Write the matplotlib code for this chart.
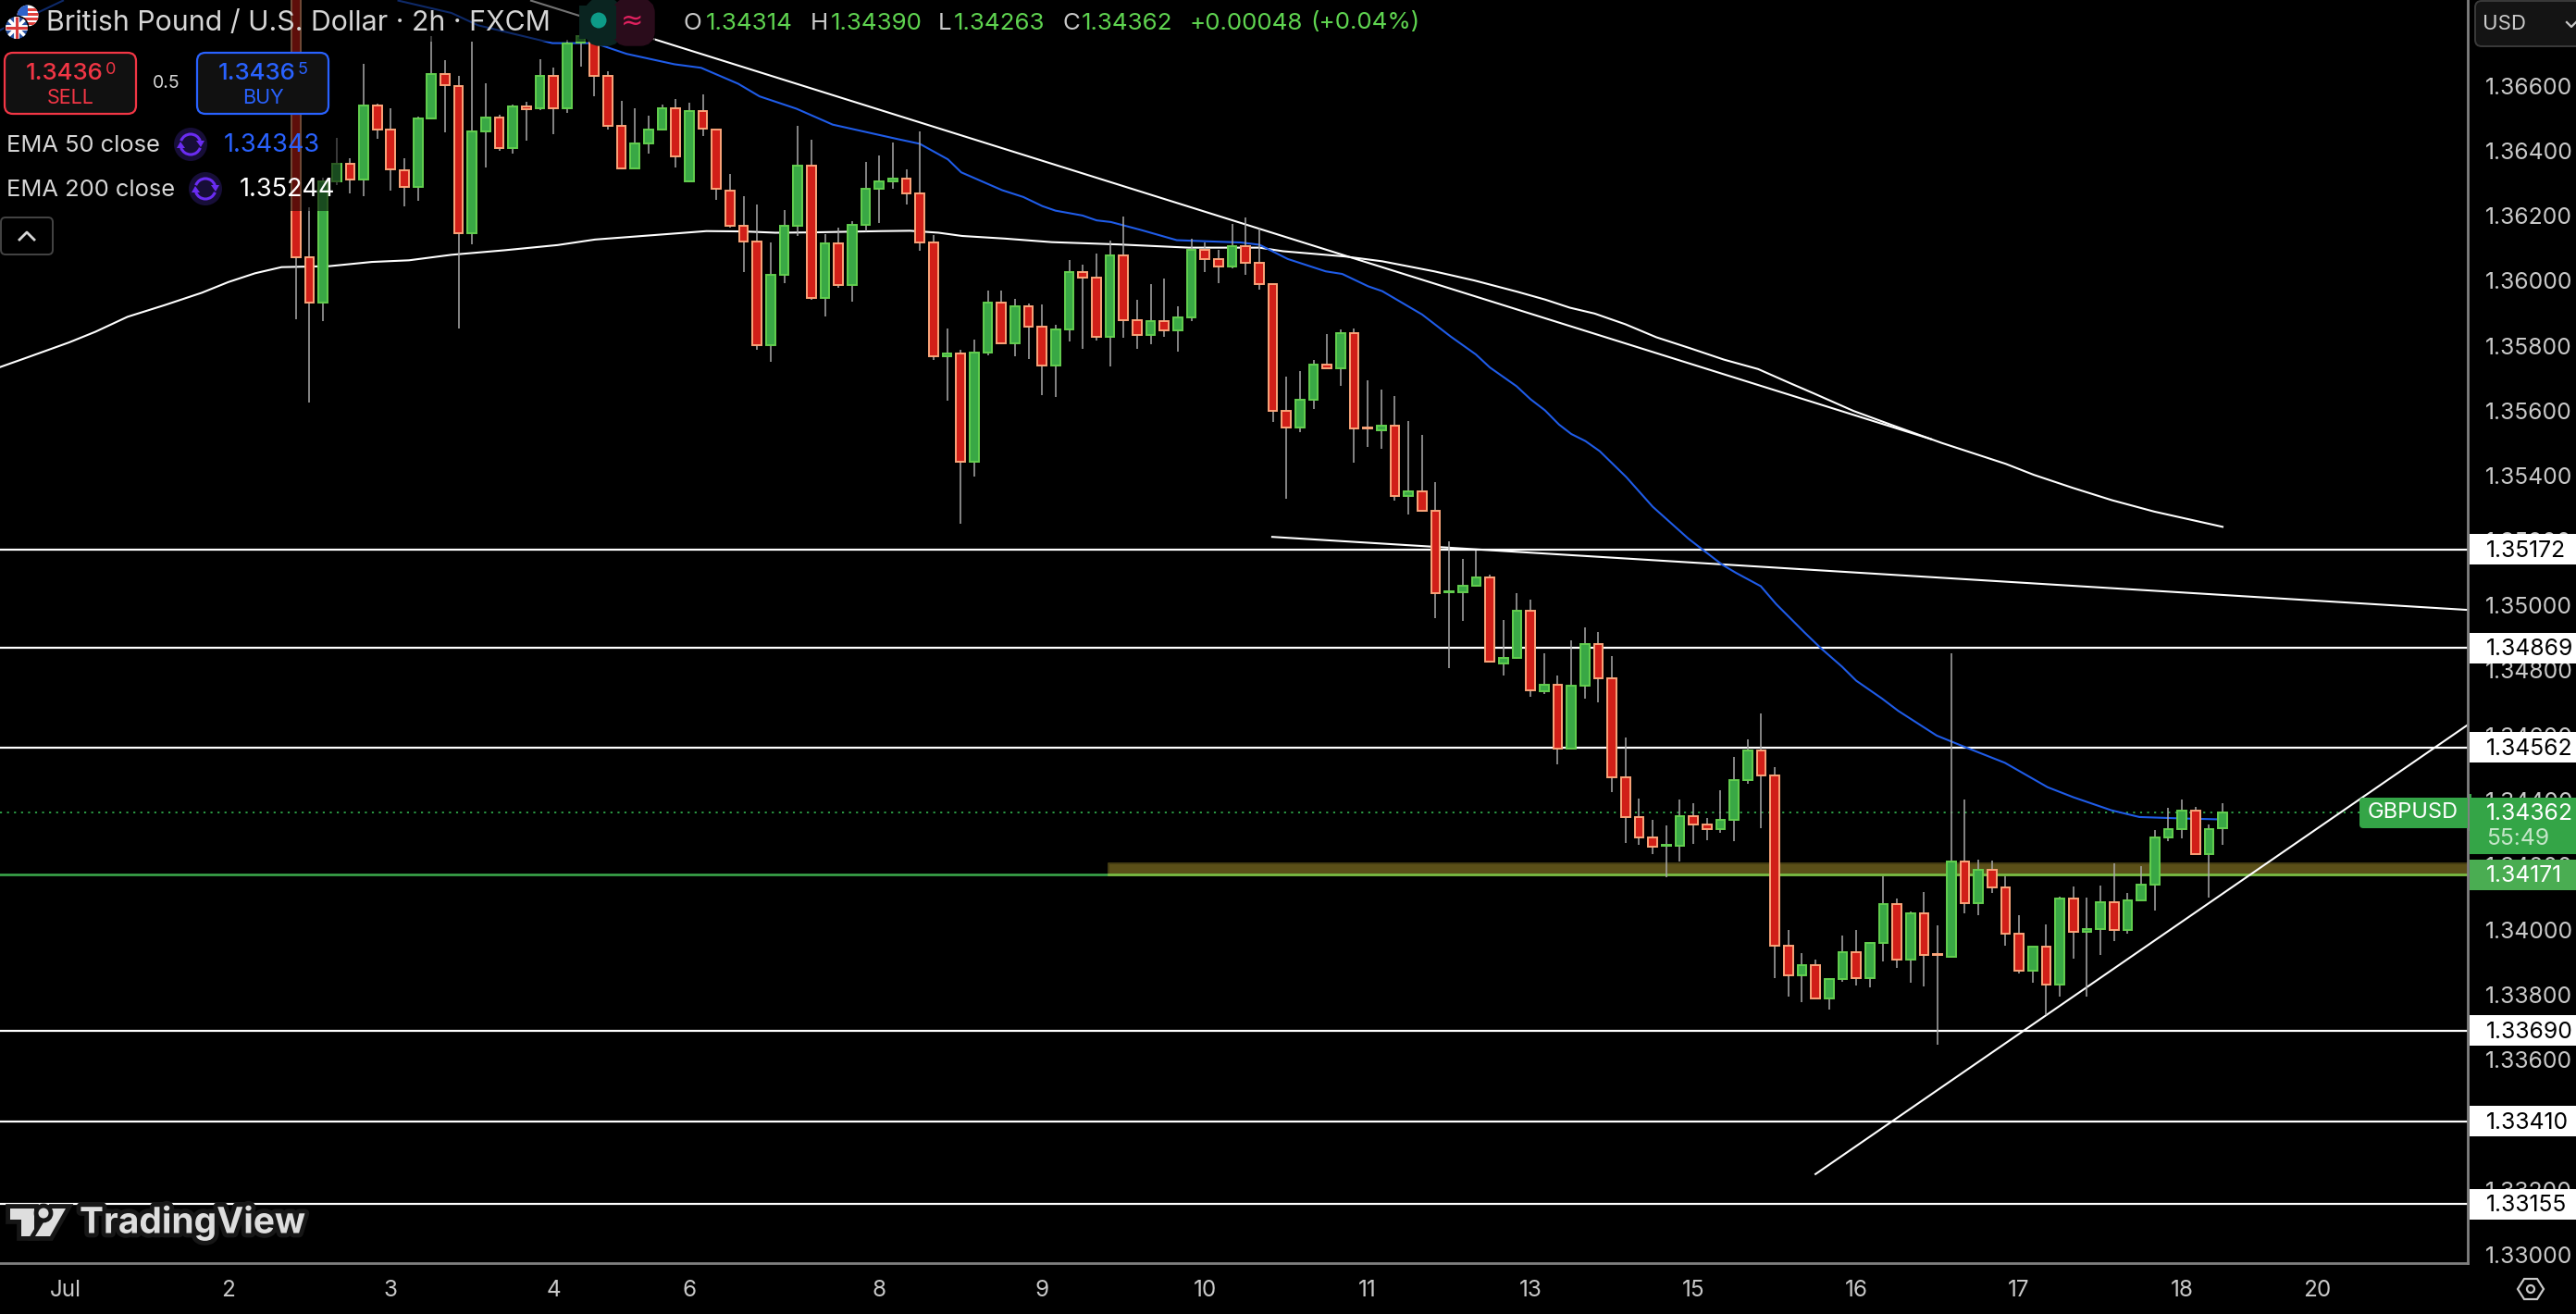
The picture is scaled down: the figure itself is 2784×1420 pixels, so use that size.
import numpy as np
import matplotlib
matplotlib.use("Agg")
import matplotlib.pyplot as plt
import matplotlib.patheffects as pe
from matplotlib.patches import Rectangle, FancyBboxPatch, Circle, Polygon, Arc

opens = [1.37082,1.36072,1.35932,1.36307,1.36359,1.36312,1.36541,1.36465,1.36339,1.36290,
1.36500,1.36638,1.36601,1.36146,1.36460,1.36502,1.36409,1.36537,1.36530,1.36631,
1.36531,1.36734,1.36754,1.36630,1.36476,1.36346,1.36423,1.36465,1.36530,1.36307,
1.36523,1.36467,1.36279,1.36168,1.36120,1.35802,1.36018,1.36169,1.36355,1.35947,
1.36115,1.35987,1.36173,1.36284,1.36307,1.36315,1.36269,1.36118,1.35768,1.35776,
1.35443,1.35779,1.35932,1.35806,1.35921,1.35858,1.35740,1.35851,1.36027,1.36009,
1.35828,1.36078,1.35878,1.35834,1.35875,1.35847,1.35887,1.36096,1.36066,1.36045,
1.36106,1.36056,1.35989,1.35599,1.35548,1.35633,1.35741,1.35730,1.35838,1.35549,
1.35539,1.35553,1.35337,1.35352,1.35292,1.35040,1.35040,1.35060,1.35087,1.34821,
1.34838,1.34983,1.34736,1.34755,1.34559,1.34753,1.34881,1.34776,1.34471,1.34349,
1.34285,1.34259,1.34259,1.34351,1.34325,1.34310,1.34340,1.34462,1.34554,1.34476,
1.33951,1.33861,1.33892,1.33790,1.33849,1.33932,1.33852,1.33961,1.34080,1.33909,
1.34052,1.33927,1.33918,1.34211,1.34083,1.34186,1.34132,1.33989,1.33875,1.33949,
1.33832,1.34097,1.33995,1.34003,1.34086,1.34001,1.34092,1.34140,1.34286,1.34311,
1.34368,1.34234,1.34314]
closes = [1.36072,1.35932,1.36307,1.36359,1.36312,1.36541,1.36467,1.36342,1.36290,1.36499,
1.36638,1.36603,1.36146,1.36459,1.36502,1.36409,1.36536,1.36529,1.36631,1.36531,
1.36732,1.36754,1.36632,1.36478,1.36346,1.36422,1.36465,1.36530,1.36383,1.36523,
1.36469,1.36282,1.36169,1.36121,1.35802,1.36018,1.36169,1.36355,1.35947,1.36115,
1.35987,1.36172,1.36284,1.36306,1.36315,1.36270,1.36119,1.35768,1.35776,1.35443,
1.35778,1.35932,1.35806,1.35921,1.35859,1.35740,1.35850,1.36027,1.36010,1.35828,
1.36078,1.35879,1.35834,1.35875,1.35847,1.35887,1.36096,1.36067,1.36045,1.36106,
1.36056,1.35990,1.35600,1.35548,1.35633,1.35741,1.35730,1.35838,1.35546,1.35545,
1.35553,1.35337,1.35352,1.35292,1.35038,1.35043,1.35061,1.35087,1.34827,1.34838,
1.34983,1.34737,1.34755,1.34559,1.34753,1.34881,1.34775,1.34471,1.34349,1.34285,
1.34256,1.34262,1.34351,1.34325,1.34310,1.34340,1.34462,1.34554,1.34476,1.33952,
1.33861,1.33892,1.33790,1.33849,1.33932,1.33852,1.33961,1.34080,1.33909,1.34052,
1.33923,1.33923,1.34211,1.34083,1.34186,1.34132,1.33989,1.33875,1.33949,1.33832,
1.34097,1.33995,1.34003,1.34086,1.34001,1.34092,1.34140,1.34286,1.34310,1.34368,
1.34235,1.34310,1.34362]
highs = [1.37191,1.36225,1.36318,1.36440,1.36378,1.36667,1.36547,1.36530,1.36378,1.36505,
1.36754,1.36680,1.36632,1.36738,1.36609,1.36512,1.36543,1.36552,1.36683,1.36656,
1.36743,1.36792,1.36798,1.36645,1.36555,1.36532,1.36508,1.36543,1.36560,1.36549,
1.36574,1.36467,1.36328,1.36261,1.36236,1.36119,1.36217,1.36476,1.36434,1.36145,
1.36165,1.36184,1.36365,1.36387,1.36425,1.36344,1.36459,1.36141,1.35854,1.35788,
1.35820,1.35969,1.35970,1.35945,1.35931,1.35928,1.35863,1.36063,1.36051,1.36083,
1.36125,1.36197,1.35940,1.35991,1.36006,1.35920,1.36130,1.36118,1.36094,1.36174,
1.36194,1.36160,1.35989,1.35706,1.35723,1.35755,1.35837,1.35849,1.35852,1.35692,
1.35664,1.35644,1.35567,1.35524,1.35381,1.35198,1.35142,1.35170,1.35094,1.34956,
1.35039,1.35019,1.34851,1.34783,1.34891,1.34931,1.34919,1.34843,1.34592,1.34406,
1.34338,1.34321,1.34402,1.34391,1.34346,1.34431,1.34532,1.34587,1.34668,1.34503,
1.34001,1.33929,1.33910,1.33853,1.33984,1.34001,1.33964,1.34165,1.34098,1.34058,
1.34118,1.34013,1.34851,1.34402,1.34218,1.34215,1.34165,1.34046,1.33950,1.34018,
1.34102,1.34133,1.34101,1.34136,1.34206,1.34115,1.34198,1.34309,1.34375,1.34401,
1.34380,1.34326,1.34390]
lows = [1.35881,1.35625,1.35876,1.36296,1.36268,1.36260,1.36438,1.36279,1.36228,1.36247,
1.36496,1.36456,1.35852,1.36112,1.36348,1.36399,1.36391,1.36431,1.36525,1.36451,
1.36516,1.36661,1.36568,1.36465,1.36343,1.36345,1.36391,1.36462,1.36348,1.36304,
1.36446,1.36250,1.36165,1.36026,1.35788,1.35750,1.35994,1.36138,1.35941,1.35889,
1.35977,1.35935,1.36151,1.36177,1.36282,1.36235,1.36092,1.35756,1.35630,1.35251,
1.35396,1.35769,1.35804,1.35766,1.35759,1.35647,1.35642,1.35812,1.35790,1.35816,
1.35736,1.35823,1.35790,1.35804,1.35826,1.35783,1.35875,1.36026,1.35994,1.36037,
1.36017,1.35972,1.35566,1.35327,1.35533,1.35604,1.35730,1.35676,1.35441,1.35488,
1.35481,1.35322,1.35280,1.35288,1.34961,1.34808,1.34952,1.35057,1.34827,1.34784,
1.34834,1.34718,1.34728,1.34509,1.34555,1.34712,1.34701,1.34426,1.34268,1.34262,
1.34235,1.34162,1.34211,1.34265,1.34277,1.34298,1.34273,1.34450,1.34314,1.33851,
1.33796,1.33779,1.33789,1.33756,1.33839,1.33830,1.33823,1.33904,1.33883,1.33837,
1.33826,1.33646,1.33918,1.34051,1.34045,1.34113,1.33951,1.33866,1.33837,1.33739,
1.33796,1.33913,1.33796,1.33923,1.33965,1.33988,1.34091,1.34060,1.34273,1.34281,
1.34234,1.34099,1.34263]

# EMA lines: bar position, price
ema200_x = [-21.8,-19.84,-16.71,-14.76,-12.4,-9.66,-6.93,-4.97,-3.01,-1.05,2.47,5.6,8.34,11.47,15.38,19.3,22.05,27.13,30.26,33.0,35.35,
37.97,43.19,45.28,47.37,49.11,52.24,55.71,60.58,65.81,71.02,72.76,77.29,80.07,83.9,86.85,90.04,92.08,93.9,95.72,97.99,100.27,102.77,105.26,107.77,110.1,111.93,
114.8,118.19,121.33,126.02,128.1,130.96,133.85,136.96,142.0]
ema200_y = [1.35734,1.35763,1.35810,1.35843,1.35889,1.35925,1.35963,1.35996,1.36023,1.36042,1.36045,1.36058,1.36063,1.36080,1.36094,1.36110,1.36127,1.36143,1.36153,1.36152,1.36148,
1.36149,1.36153,1.36154,1.36148,1.36138,1.36130,1.36119,1.36112,1.36102,1.36102,1.36091,1.36075,1.36060,1.36029,1.36001,1.35966,1.35942,1.35917,1.35899,1.35866,1.35826,1.35792,1.35757,1.35728,1.35685,1.35652,
1.35599,1.35547,1.35500,1.35436,1.35402,1.35362,1.35324,1.35289,1.35242]
ema50_left_x = [-21.8,-20.44,-18.87,-17.16]
ema50_left_y = [1.36772,1.36801,1.36829,1.36863]
ema50_x = [7.56,11.47,13.43,18.91,22.05,24.38,27.9,29.87,32.6,34.18,36.9,39.57,44.41,45.98,48.06,49.04,52.06,53.62,55.02,55.99,57.98,59.02,60.07,
62.33,64.93,67.53,69.63,71.02,73.11,75.9,77.12,79.03,80.07,83.01,85.12,86.97,88.0,89.97,91.0,92.06,93.1,94.0,95.05,96.1,98.06,100.0,102.62,
105.1,106.15,107.97,109.1,111.18,112.4,113.96,115.0,116.9,118.1,120.93,123.17,125.96,129.1,131.0,133.79,135.87,137.96,139.53,141.6]
ema50_y = [1.36863,1.36825,1.36787,1.36732,1.36732,1.36699,1.36667,1.36656,1.36607,1.36568,1.36530,1.36481,1.36436,1.36422,1.36374,1.36334,1.36279,1.36258,1.36230,1.36216,1.36201,1.36186,1.36181,
1.36156,1.36125,1.36121,1.36118,1.36111,1.36067,1.36029,1.36021,1.35983,1.35968,1.35896,1.35828,1.35773,1.35733,1.35675,1.35635,1.35601,1.35557,1.35528,1.35506,1.35475,1.35395,1.35304,1.35206,
1.35126,1.35100,1.35059,1.35004,1.34917,1.34868,1.34811,1.34768,1.34713,1.34675,1.34599,1.34561,1.34515,1.34440,1.34409,1.34369,1.34348,1.34345,1.34343,1.34341]

trend_lines = [((17.34, 120.52), (1.36863, 1.35512)),
               ((71.96, 160.07), (1.35211, 1.34986)),
               ((112.0, 160.07), (1.33248, 1.34632))]
levels = [1.35172, 1.34869, 1.34562, 1.33690, 1.33410, 1.33155]
last_price = 1.34362
green_level = 1.34171
band_top = 1.34206
band_start = 59.9

yticks = [1.366,1.364,1.362,1.360,1.358,1.356,1.354,1.352,1.350,1.348,1.346,1.344,1.342,1.340,1.338,1.336,1.334,1.332,1.330]
day_pos = [-17,-5,7,19,29,43,55,67,79,91,103,115,127,139,149]
day_labels = ["Jul","2","3","4","6","8","9","10","11","13","15","16","17","18","20"]

plt.rcParams['font.family'] = ['Inter', 'DejaVu Sans']

RED, RED_E = "#d11f18", "#fba57a"
GREEN, GREEN_E = "#39a845", "#63cf4f"
BLUE = "#1f5ce8"
GRAY = "#c9c9c9"

fig = plt.figure(figsize=(27.84, 14.2), dpi=100, facecolor="black")
ax = fig.add_axes([0, 55/1420, 2667/2784, 1365/1420], facecolor="black")
ax.set_xlim(-21.8, 160.07)
ax.set_ylim(1.329738, 1.368649)

# drawings under the candles
for lv in levels:
    ax.axhline(lv, color="white", lw=1.6, zorder=2)
ax.axhline(green_level, color="#3aa64a", lw=1.9, zorder=2)
ax.fill_between([band_start, 160.07], green_level, band_top, facecolor="#5a4f18", edgecolor="#443c12", lw=1.4, zorder=1.8)
ax.plot([band_start, 160.07], [green_level, green_level], color="#7cb840", lw=1.9, zorder=2.1)
ax.plot([-21.8, 152.8], [last_price, last_price], color="#2fa84a", lw=1.3, ls=(0, (1.2, 3)), zorder=2)
for xs, ys in trend_lines:
    ax.plot(xs, ys, color="white", lw=1.5, zorder=2.2)
ax.plot(ema200_x, ema200_y, color="white", lw=1.5, zorder=2.2)
ax.plot(ema50_left_x, ema50_left_y, color=BLUE, lw=1.5, zorder=2.2)
ax.plot(ema50_x, ema50_y, color=BLUE, lw=1.5, zorder=2.2)

# candles
pos = np.arange(len(opens))
o, c, h, l = map(np.array, (opens, closes, highs, lows))
up = c >= o
ax.vlines(pos, l, h, color="#a9a9a9", lw=1.1, zorder=3)
ax.bar(pos[up], (c-o)[up], bottom=o[up], width=0.66, color=GREEN, edgecolor=GREEN_E, lw=1.4, zorder=3.2)
ax.bar(pos[~up], (c-o)[~up], bottom=o[~up], width=0.66, color=RED, edgecolor=RED_E, lw=1.4, zorder=3.2)

# axes
for s in ("top", "left"):
    ax.spines[s].set_visible(False)
for s in ("right", "bottom"):
    ax.spines[s].set_color("#808080")
    ax.spines[s].set_linewidth(2.0)
ax.yaxis.tick_right()
ax.set_yticks(yticks)
ax.set_yticklabels([f"{v:.5f}" for v in yticks])
ax.set_xticks(day_pos)
ax.set_xticklabels(day_labels)
ax.tick_params(axis="y", length=0, pad=13.5, labelsize=17.8, labelcolor=GRAY)
ax.tick_params(axis="x", length=0, pad=13, labelsize=17.5, labelcolor=GRAY)

# price tags on the scale
ytr = ax.get_yaxis_transform()
tag_left = 1 + 2/2667
tag_w = 118/2667
px = 2.8506e-5
txt_x = 1 + 20/2667
tag_size = 17.8
for lv in levels:
    ax.add_patch(Rectangle((tag_left, lv-16.5*px), tag_w, 33*px, transform=ytr, color="white", lw=0, clip_on=False, zorder=10))
    ax.text(txt_x, lv-1.5*px, f"{lv:.5f}", transform=ytr, color="black", fontsize=tag_size, va="center", clip_on=False, zorder=11)
ax.add_patch(Rectangle((tag_left, green_level-16.5*px), tag_w, 33*px, transform=ytr, color="#4aad52", lw=0, clip_on=False, zorder=10))
ax.text(txt_x, green_level-1.5*px, f"{green_level:.5f}", transform=ytr, color="white", fontsize=tag_size, va="center", clip_on=False, zorder=11)
ax.add_patch(Rectangle((tag_left, last_price-45*px), tag_w, 61*px, transform=ytr, color="#34a547", lw=0, clip_on=False, zorder=10))
ax.text(txt_x, last_price-1*px, f"{last_price:.5f}", transform=ytr, color="white", fontsize=tag_size, va="center", clip_on=False, zorder=11)
ax.text(txt_x, last_price-28.5*px, "55:49", transform=ytr, color="#c4e6c8", fontsize=tag_size, va="center", clip_on=False, zorder=11)

# interface parts, in pixel positions of the screenshot
ui = fig.add_axes([0, 0, 1, 1], facecolor="none")
ui.set_xlim(0, 2784)
ui.set_ylim(1420, 0)
ui.axis("off")

ui.add_patch(Rectangle((0, 0), 368, 228, color="black", alpha=0.55, lw=0))
ui.add_patch(Rectangle((368, 0), 340, 45, color="black", alpha=0.55, lw=0))

def label(x, y, s, color="#d6d6d6", size=17, **kw):
    kw.setdefault("va", "center")
    return ui.text(x, y, s, color=color, fontsize=size, **kw)

# flags
us = Circle((30, 17), 11.5, color="white", lw=0)
ui.add_patch(us)
for yy in (9, 14, 19, 24):
    r = Rectangle((18, yy), 24, 2.6, color="#e0403c", lw=0)
    ui.add_patch(r)
    r.set_clip_path(us)
r = Rectangle((18, 5), 12, 12, color="#2f62c9", lw=0)
ui.add_patch(r)
r.set_clip_path(us)
ui.add_patch(Circle((18, 30), 13.5, color="black", lw=0))
uk = Circle((18, 30), 12, color="#27509f", lw=0)
ui.add_patch(uk)
for xs, ys, col, w in [((6, 30), (18, 42), "white", 2.6), ((6, 30), (42, 18), "white", 2.6),
                       ((6, 30), (30, 30), "white", 4.2), ((18, 18), (18, 42), "white", 4.2),
                       ((6, 30), (30, 30), "#d93a3a", 2.2), ((18, 18), (18, 42), "#d93a3a", 2.2)]:
    ln, = ui.plot(xs, ys, color=col, lw=w, solid_capstyle="butt")
    ln.set_clip_path(uk)

label(50, 25, "British Pound / U.S. Dollar · 2h · FXCM", size=21.8)

# market status pill
ui.add_patch(FancyBboxPatch((642, 8), 20, 32, boxstyle="round,pad=0,rounding_size=6", fc="#0a2420", ec="#0a2420", lw=14))
ui.add_patch(FancyBboxPatch((672, 8), 26, 32, boxstyle="round,pad=0,rounding_size=6", fc="#2a0c1b", ec="#2a0c1b", lw=14))
ui.add_patch(Rectangle((626, 6), 40, 36, color="#0a2420", lw=0))
ui.add_patch(Rectangle((666, 6), 20, 36, color="#2a0c1b", lw=0))
ui.add_patch(Circle((647, 22), 8.5, color="#0d9a87", lw=0))
label(683, 23, "≈", color="#e0215f", size=21, ha="center", family=["DejaVu Sans"])

# O H L C
for x, s, col in [(738, "O", GRAY), (763, "1.34314", "#5fd450"), (876, "H", GRAY), (898, "1.34390", "#5fd450"),
                  (1014, "L", GRAY), (1031, "1.34263", "#5fd450"), (1148, "C", GRAY), (1169, "1.34362", "#5fd450"),
                  (1286, "+0.00048", "#5fd450"), (1416, "(+0.04%)", "#5fd450")]:
    label(x, 25, s, color=col, size=18.7)

# sell / buy
ui.add_patch(FancyBboxPatch((5, 57), 142, 66, boxstyle="round,pad=0,rounding_size=9", fc="#111111", ec="#f23645", lw=1.6))
ui.add_patch(FancyBboxPatch((213, 57), 142, 66, boxstyle="round,pad=0,rounding_size=9", fc="#111111", ec="#2962ff", lw=1.6))
label(28, 79, "1.3436", color="#f23645", size=18.6, weight="medium")
label(114, 76, "0", color="#f23645", size=13)
label(76, 106, "SELL", color="#f23645", size=15.5, ha="center")
label(236, 79, "1.3436", color="#2962ff", size=18.6, weight="medium")
label(322, 76, "5", color="#2962ff", size=13)
label(284, 106, "BUY", color="#2962ff", size=15.5, ha="center")
label(180, 90, "0.5", size=14, ha="center")

# indicator legend
def refresh(cx, cy):
    ui.add_patch(Circle((cx, cy), 18, color="#170e38", lw=0))
    ui.add_patch(Arc((cx, cy), 22, 22, theta1=200, theta2=340, color="#6a2cf2", lw=2.2))
    ui.add_patch(Arc((cx, cy), 22, 22, theta1=20, theta2=160, color="#6a2cf2", lw=2.2))
    ui.add_patch(Polygon([(cx+6, cy-4), (cx+15, cy-4), (cx+11, cy+3)], color="#6a2cf2", lw=0))
    ui.add_patch(Polygon([(cx-6, cy+4), (cx-15, cy+4), (cx-11, cy-3)], color="#6a2cf2", lw=0))

label(7, 157, "EMA 50 close", size=18.4)
refresh(206, 156)
label(242, 157, "1.34343", color="#2962ff", size=19.5)
label(7, 205, "EMA 200 close", size=18.4)
refresh(222, 204)
label(259, 205, "1.35244", color="white", size=19.5)
ui.add_patch(FancyBboxPatch((1, 235), 56, 40, boxstyle="round,pad=0,rounding_size=5", fc="black", ec="#444444", lw=1.4))
ui.plot([21, 29, 37], [259, 251, 259], color="#d6d6d6", lw=2)

# currency box
ui.add_patch(FancyBboxPatch((2675, 1), 130, 49, boxstyle="round,pad=0,rounding_size=7", fc="#141414", ec="#3a3a3a", lw=1.4))
label(2683, 26, "USD", color=GRAY, size=16)
ui.plot([2774, 2779, 2784], [24, 29, 24], color=GRAY, lw=1.6)

# symbol label next to the scale
ui.add_patch(FancyBboxPatch((2550, 862), 130, 33, boxstyle="round,pad=0,rounding_size=4", fc="#34a547", ec="none", lw=0))
ui.add_patch(Rectangle((2667, 858), 2, 40, color="#808080", lw=0))
ui.add_patch(Rectangle((2669, 858), 2, 40, color="#34a547", lw=0))
label(2559, 878, "GBPUSD", color="white", size=17)

# settings icon
ui.add_patch(Polygon([(2721, 1393), (2728, 1382), (2742, 1382), (2749, 1393), (2742, 1404), (2728, 1404)],
                     fill=False, ec=GRAY, lw=1.6))
ui.add_patch(Circle((2735, 1393), 4, fill=False, ec=GRAY, lw=1.6))

# TradingView mark
mark = "#dedede"
stroke = [pe.withStroke(linewidth=7, foreground="#161616")]
for pts in ([(11, 1306), (37, 1306), (37, 1336), (23, 1336), (23, 1318), (11, 1318)],
            [(56, 1306), (71, 1306), (54, 1336), (38, 1336)]):
    ui.add_patch(Polygon(pts, color=mark, lw=0, path_effects=stroke))
ui.add_patch(Circle((47, 1311), 5.5, color=mark, lw=0, path_effects=stroke))
ui.text(86, 1321, "TradingView", color=mark, fontsize=28, weight="bold", va="center", path_effects=stroke)

fig.savefig("out.png", dpi=100, facecolor="black")
